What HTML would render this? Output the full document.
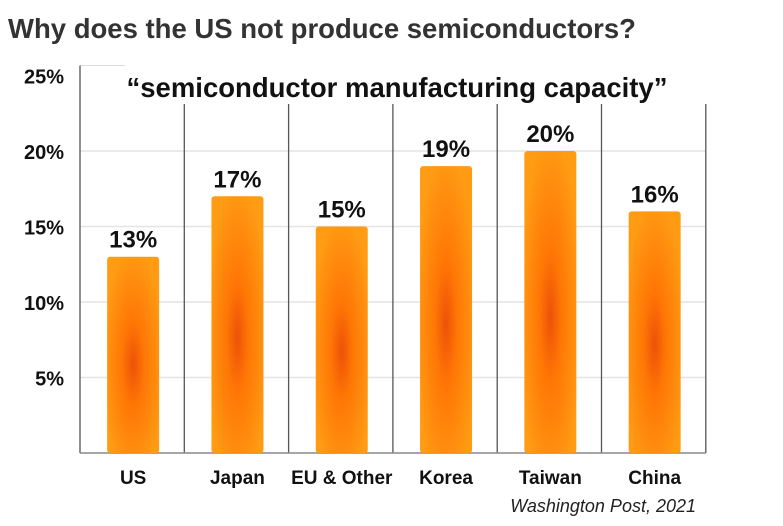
<!DOCTYPE html>
<html><head><meta charset="utf-8"><style>
body{margin:0;background:#fff;width:783px;height:521px;overflow:hidden;font-family:"Liberation Sans",Arial,sans-serif}
</style></head><body>
<svg width="783" height="521">
<defs>
<radialGradient id="g" cx="0.5" cy="0.55" r="0.6" fx="0.5" fy="0.55">
<stop offset="0" stop-color="#ec5208"/>
<stop offset="0.35" stop-color="#ff7605"/>
<stop offset="1" stop-color="#ff9c14"/>
</radialGradient>
</defs>
<text x="8" y="38" font-size="27.5" font-weight="bold" fill="#333">Why does the US not produce semiconductors?</text>
<g id="plot"></g>
<text x="397" y="97" font-size="27.5" font-weight="bold" fill="#111" text-anchor="middle">“semiconductor manufacturing capacity”</text>
<text x="696" y="512" font-size="18" font-style="italic" fill="#222" text-anchor="end">Washington Post, 2021</text>
</svg>
<script>
const categories=["US","Japan","EU & Other","Korea","Taiwan","China"];
const values=[13,17,15,19,20,16];
const ticks=[5,10,15,20,25];
const NS="http://www.w3.org/2000/svg";
const plotG=document.getElementById('plot');
const x0=80,colW=104.3,y0=453,pxPer=15.1;
const yScale=v=>y0-v*pxPer;
function mk(t,a){const e=document.createElementNS(NS,t);for(const k in a)e.setAttribute(k,a[k]);plotG.appendChild(e);return e;}
ticks.forEach(t=>{
 if(t<25){
 const l=mk('line',{x1:x0,x2:x0+colW*6,y1:yScale(t),y2:yScale(t),stroke:'#e4e4e4','stroke-width':1.5});
 
 
 }
 const tx=mk('text',{x:64,y:yScale(t)+8,'font-size':20,'font-weight':'bold','text-anchor':'end',fill:'#111'});
 tx.textContent=t+'%';
 
 
});
const topLine=mk('line',{x1:x0,x2:x0+45,y1:yScale(25)-10,y2:yScale(25)-10,stroke:'#ddd','stroke-width':1});


for(let i=0;i<=6;i++){
 const xx=x0+i*colW;
 const l=mk('line',{x1:xx,x2:xx,y1:i==0?yScale(25)-10:104,y2:y0,stroke:'#555','stroke-width':1.3});
 
 
}
const b=mk('line',{x1:x0,x2:x0+colW*6,y1:y0,y2:y0,stroke:'#888','stroke-width':1.5});


categories.forEach((c,i)=>{
 const cx=x0+colW*i+colW/2+1,bw=52,v=values[i];
 const r=mk('rect',{x:cx-bw/2,y:yScale(v),width:bw,height:y0-yScale(v),rx:3,fill:'url(#g)'});
 
 
 const vt=mk('text',{x:cx,y:yScale(v)-9,'font-size':24,'font-weight':'bold','text-anchor':'middle',fill:'#111'});
 vt.textContent=v+'%';
 
 
 const ct=mk('text',{x:cx,y:484,'font-size':19,'font-weight':'bold','text-anchor':'middle',fill:'#111'});
 ct.textContent=c;
 
 
});
</script>
</body></html>
